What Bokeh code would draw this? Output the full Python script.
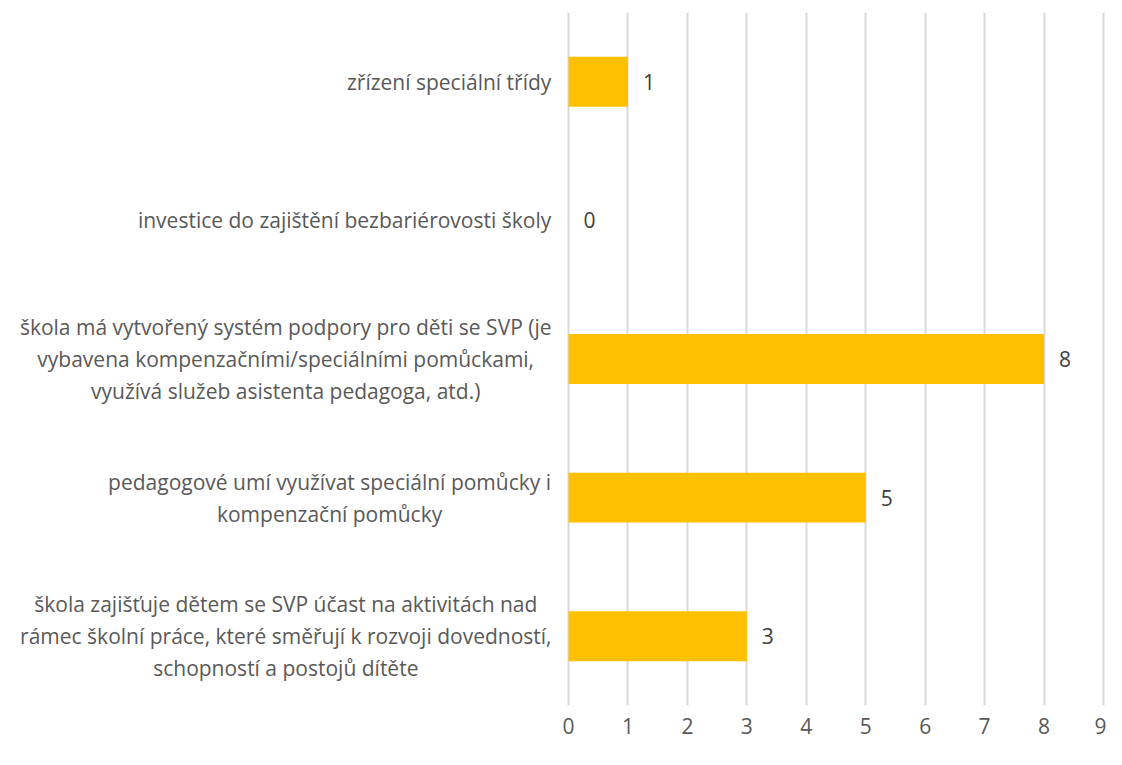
import unicodedata
from bokeh.plotting import figure
from bokeh.models import ColumnDataSource, FactorRange, Range1d, FixedTicker
from bokeh.core.properties import value
from bokeh.embed import file_html
from bokeh.resources import INLINE

# ---- data ----
categories = [
    "zřízení speciální třídy",
    "investice do zajištění bezbariérovosti školy",
    "škola má vytvořený systém podpory pro děti se SVP (je\nvybavena kompenzačními/speciálními pomůckami,\nvyužívá služeb asistenta pedagoga, atd.)",
    "pedagogové umí využívat speciální pomůcky i\nkompenzační pomůcky",
    "škola zajišťuje dětem se SVP účast na aktivitách nad\nrámec školní práce, které směřují k rozvoji dovedností,\nschopností a postojů dítěte",
]
values = [1, 0, 8, 5, 3]
x_ticks = [0, 1, 2, 3, 4, 5, 6, 7, 8, 9]

# ---- style ----
FONT = "Open Sans"
FS = 21
TEXT_COLOR = "#595959"
BAR_COLOR = "#FFC000"
GRID_COLOR = "#D9D9D9"

# approximate Open Sans advance widths (em)
CHAR_W = {
    " ": 0.26, "a": 0.556, "b": 0.613, "c": 0.476, "d": 0.613, "e": 0.561,
    "f": 0.339, "g": 0.548, "h": 0.614, "i": 0.253, "j": 0.253, "k": 0.525,
    "l": 0.253, "m": 0.93, "n": 0.614, "o": 0.604, "p": 0.613, "q": 0.613,
    "r": 0.408, "s": 0.477, "t": 0.353, "u": 0.614, "v": 0.501, "w": 0.778,
    "x": 0.524, "y": 0.502, "z": 0.477, "S": 0.55, "V": 0.569, "P": 0.603,
    "(": 0.291, ")": 0.291, "/": 0.352, ",": 0.245, ".": 0.266,
}


def est_width(line, size):
    w = 0.0
    for ch in line:
        base = unicodedata.normalize("NFD", ch)[0]
        w += CHAR_W.get(base, 0.56)
    return w * size


def block_width(txt):
    return max(est_width(l, FS) for l in txt.split("\n"))


label_gap = 17
offsets = [-(label_gap + block_width(c) / 2) for c in categories]

source = ColumnDataSource(dict(
    cat=categories,
    value=values,
    value_str=[str(v) for v in values],
    zero=[0] * len(values),
    label_off=offsets,
))

W, H = 1106, 749
zero_px = 568
nine_px = 1103
px_per_unit = (nine_px - zero_px) / 9
x_start = -zero_px / px_per_unit
x_end = 9 + (W - nine_px) / px_per_unit

p = figure(
    width=W, height=H,
    y_range=FactorRange(factors=categories[::-1], range_padding=0),
    x_range=Range1d(x_start, x_end),
    output_backend="svg", toolbar_location=None,
    y_axis_location=None,
    min_border_left=0, min_border_right=0, min_border_top=12, min_border_bottom=44,
)
p.outline_line_color = None
p.background_fill_color = "white"
p.border_fill_color = "white"

p.xaxis.ticker = FixedTicker(ticks=x_ticks)
p.xaxis.axis_line_color = None
p.xaxis.major_tick_line_color = None
p.xaxis.minor_tick_line_color = None
p.xaxis.major_tick_in = 0
p.xaxis.major_tick_out = 0
p.xaxis.major_label_standoff = 12
p.xaxis.major_label_text_font = FONT
p.xaxis.major_label_text_font_size = f"{FS}px"
p.xaxis.major_label_text_color = TEXT_COLOR

p.xgrid.ticker = FixedTicker(ticks=x_ticks)
p.xgrid.grid_line_color = GRID_COLOR
p.xgrid.grid_line_width = 2
p.ygrid.grid_line_color = None

p.hbar(y="cat", left="zero", right="value", height=0.36, source=source,
       fill_color=BAR_COLOR, line_color=None)

p.text(x="value", y="cat", text="value_str", source=source,
       x_offset=15, text_align="left", text_baseline="middle",
       text_font=value(FONT), text_font_size=f"{FS}px", text_color="#404040")

p.text(x="zero", y="cat", text="cat", source=source,
       x_offset="label_off", text_align="center", text_baseline="middle",
       text_font=value(FONT), text_font_size=f"{FS}px", text_color=TEXT_COLOR,
       text_line_height=1.14)

open("out.html", "w").write(file_html(p, INLINE))
